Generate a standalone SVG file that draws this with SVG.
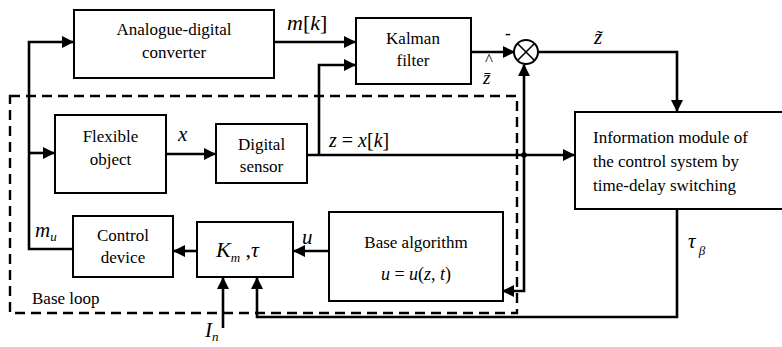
<svg xmlns="http://www.w3.org/2000/svg" width="782" height="347" viewBox="0 0 782 347">
<style>
.box{fill:#fff;stroke:#000;stroke-width:2}
.ln{fill:none;stroke:#000;stroke-width:2.6}
text{font-family:"Liberation Serif","Times New Roman",serif;fill:#000}
.t{font-size:17px}
.c{text-anchor:middle}
.i{font-style:italic}
.dash{fill:none;stroke:#000;stroke-width:2.4;stroke-dasharray:10,6}
</style>
<defs>
<marker id="ah" markerUnits="userSpaceOnUse" markerWidth="12" markerHeight="12" viewBox="0 0 12 12" refX="11" refY="6" orient="auto">
<path d="M0,0 L12,6 L0,12 z" fill="#000"/>
</marker>
</defs>
<rect class="dash" x="10" y="96" width="507" height="217"/>
<g id="connectors">
<polyline class="ln" points="73,249 29,249 29,42 73,42" marker-end="url(#ah)"/>
<polyline class="ln" points="29,153 54,153" marker-end="url(#ah)"/>
<polyline class="ln" points="274,42 355,42" marker-end="url(#ah)"/>
<polyline class="ln" points="166,154 215,154" marker-end="url(#ah)"/>
<polyline class="ln" points="307,155 574,155" marker-end="url(#ah)"/>
<polyline class="ln" points="319,155 319,65 355,65" marker-end="url(#ah)"/>
<polyline class="ln" points="471,52 514,52" marker-end="url(#ah)"/>
<polyline class="ln" points="524,155 524,65" marker-end="url(#ah)"/>
<polyline class="ln" points="524,155 524,291 503,291" marker-end="url(#ah)"/>
<polyline class="ln" points="539,52 677,52 677,111" marker-end="url(#ah)"/>
<polyline class="ln" points="677,209 677,317 257,317 257,278" marker-end="url(#ah)"/>
<polyline class="ln" points="329,251 294,251" marker-end="url(#ah)"/>
<polyline class="ln" points="197,251 174,251" marker-end="url(#ah)"/>
<polyline class="ln" points="223,328 223,278" marker-end="url(#ah)"/>
<circle cx="524" cy="155" r="2.8" fill="#000"/>
</g>
<g id="adc">
<rect class="box" x="74" y="10" width="200" height="68"/>
<text class="t c" x="174" y="35">Analogue-digital</text>
<text class="t c" x="174" y="58">converter</text>
</g>
<g id="kalman">
<rect class="box" x="356" y="18" width="115" height="66"/>
<text class="t c" x="413" y="44">Kalman</text>
<text class="t c" x="413" y="66">filter</text>
</g>
<g id="sum">
<circle cx="526" cy="52" r="12" fill="#fff" stroke="#000" stroke-width="2"/>
<path d="M517.5,43.5 L534.5,60.5 M534.5,43.5 L517.5,60.5" stroke="#000" stroke-width="1.6"/>
<text class="t" x="505" y="39" font-weight="bold">-</text>
</g>
<g id="flexible">
<rect class="box" x="55" y="115" width="111" height="78"/>
<text class="t c" x="110.5" y="142">Flexible</text>
<text class="t c" x="110.5" y="165">object</text>
</g>
<g id="sensor">
<rect class="box" x="216" y="124" width="91" height="59"/>
<text class="t c" x="261.5" y="150" font-size="16">Digital</text>
<text class="t c" x="261.5" y="172" font-size="16">sensor</text>
</g>
<g id="info">
<rect class="box" x="575" y="112" width="212" height="97"/>
<text class="t" x="593" y="143">Information module of</text>
<text class="t" x="593" y="167">the control system by</text>
<text class="t" x="593" y="191">time-delay switching</text>
</g>
<g id="control">
<rect class="box" x="73" y="216" width="100" height="61"/>
<text class="t c" x="123" y="241">Control</text>
<text class="t c" x="123" y="263">device</text>
</g>
<g id="km">
<rect class="box" x="197" y="222" width="96" height="55"/>
<text class="i" x="216" y="257" font-size="22">K<tspan font-size="13" dy="5">m</tspan><tspan font-style="normal" dy="-5"> ,</tspan><tspan>τ</tspan></text>
</g>
<g id="base">
<rect class="box" x="329" y="212" width="174" height="89"/>
<text class="t c" x="416" y="248" font-size="19">Base algorithm</text>
<text class="i c" x="416" y="280" font-size="18">u<tspan font-style="normal"> = </tspan>u<tspan font-style="normal">(</tspan>z<tspan font-style="normal">, </tspan>t<tspan font-style="normal">)</tspan></text>
</g>
<g id="labels">
<text class="i" x="287" y="30" font-size="22">m<tspan font-style="normal">[</tspan>k<tspan font-style="normal">]</tspan></text>
<text class="i" x="178" y="141" font-size="21">x</text>
<text class="i" x="329" y="147" font-size="20">z<tspan font-style="normal"> = </tspan>x<tspan font-style="normal">[</tspan>k<tspan font-style="normal">]</tspan></text>
<text class="i" x="594" y="44" font-size="21">z̃</text>
<text class="t" x="485" y="65" font-size="15">^</text>
<text class="i" x="483" y="84" font-size="19">z̄</text>
<text class="i" x="302" y="244" font-size="21">u</text>
<text class="i" x="35" y="237" font-size="21">m<tspan font-size="13" dy="4">u</tspan></text>
<text class="i" x="688" y="248" font-size="21">τ<tspan font-size="13" dy="7"> β</tspan></text>
<text class="i" x="205" y="337" font-size="21">I<tspan font-size="13" dy="4">n</tspan></text>
<text class="t" x="32" y="304">Base loop</text>
</g>
</svg>
